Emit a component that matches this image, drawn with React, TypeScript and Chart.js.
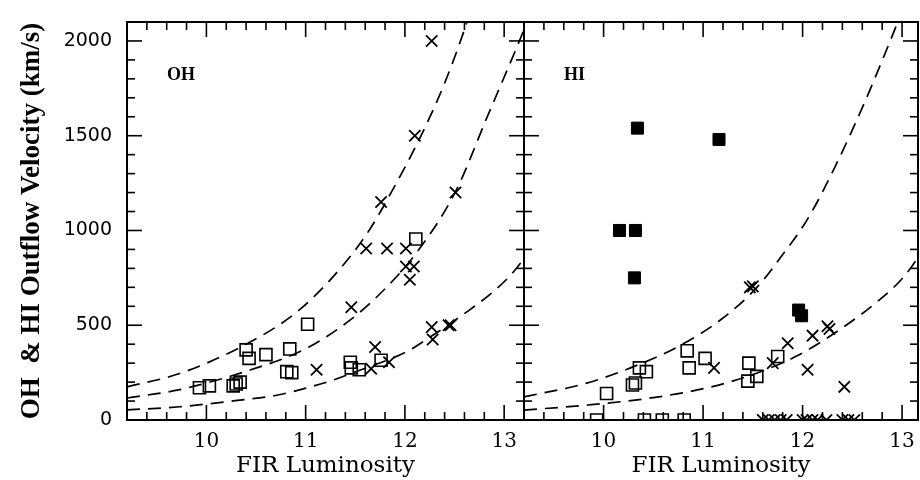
import { useEffect, useRef } from "react";
import { Chart, registerables } from "chart.js";

Chart.register(...registerables);

// x: log FIR luminosity, y: outflow velocity (km/s)

// OH panel
const OH_OPEN_SQUARES: [number, number][] = [
  [9.93, 170], [10.03, 180], [10.27, 180], [10.30, 190], [10.34, 200],
  [10.40, 370], [10.43, 325], [10.60, 345], [10.81, 255], [10.86, 250],
  [10.84, 375], [11.02, 505], [11.45, 305], [11.46, 275], [11.54, 265],
  [11.76, 315], [12.11, 955],
];
const OH_CROSSES: [number, number][] = [
  [11.11, 265], [11.46, 595], [11.61, 905], [11.66, 270], [11.70, 385],
  [11.76, 1150], [11.82, 905], [11.84, 305], [12.01, 905], [12.01, 810],
  [12.05, 740], [12.09, 810], [12.10, 1500], [12.27, 2000], [12.27, 490],
  [12.28, 425], [12.44, 500], [12.46, 500], [12.51, 1200],
];
const OH_CURVE_HIGH: [number, number][] = [
  [9.2, 175], [9.73, 245], [10.4, 400], [10.9, 565], [11.3, 770],
  [11.62, 985], [11.83, 1170], [12.19, 1530], [12.41, 1790], [12.6, 2060],
  [12.66, 2160],
];
const OH_CURVE_MID: [number, number][] = [
  [9.2, 116], [9.73, 160], [10.44, 264], [10.99, 373], [11.44, 524],
  [11.78, 682], [12.12, 885], [12.51, 1205], [12.83, 1600], [13.13, 1970],
  [13.2, 2060],
];
const OH_CURVE_LOW: [number, number][] = [
  [9.2, 53], [9.73, 70], [10.29, 102], [10.72, 132], [11.0, 168],
  [11.28, 211], [11.48, 250], [12.02, 361], [12.22, 426], [12.46, 510],
  [12.66, 584], [12.87, 668], [13.05, 756], [13.2, 850],
];

// HI panel
const HI_FILLED_SQUARES: [number, number][] = [
  [10.34, 1540], [11.16, 1480], [10.16, 1000], [10.32, 1000], [10.31, 750],
  [11.96, 580], [11.99, 550],
];
const HI_OPEN_SQUARES: [number, number][] = [
  [10.03, 140], [10.29, 185], [10.32, 195], [10.36, 275], [10.43, 255],
  [10.84, 365], [10.86, 275], [11.02, 325], [11.46, 300], [11.45, 205],
  [11.54, 230], [11.75, 335],
  [9.93, 0], [10.41, 0], [10.59, 0], [10.81, 0],
];
const HI_CROSSES: [number, number][] = [
  [11.47, 700], [11.50, 705], [11.11, 275], [11.70, 300], [11.85, 405],
  [12.10, 445], [12.05, 265], [12.25, 495], [12.27, 480], [12.42, 175],
  [11.60, 0], [11.66, 0], [11.72, 0], [11.78, 0], [11.84, 0], [12.00, 0],
  [12.04, 0], [12.10, 0], [12.15, 0], [12.24, 0], [12.40, 0], [12.46, 0],
  [12.52, 0],
];
const HI_CURVE_HIGH: [number, number][] = [
  [9.2, 122], [9.82, 193], [10.27, 275], [10.74, 385], [11.18, 530],
  [11.55, 705], [11.81, 880], [12.05, 1060], [12.33, 1340], [12.61, 1660],
  [12.83, 1935], [12.98, 2130],
];
const HI_CURVE_LOW: [number, number][] = [
  [9.2, 52], [9.84, 79], [10.5, 118], [11.06, 172], [11.5, 240],
  [11.95, 340], [12.41, 490], [12.77, 633], [13.0, 745], [13.16, 855],
];

// Axes
const X_MIN = 9.2;
const X_MAX_LEFT = 13.2;
const X_MAX_RIGHT = 13.16;
const Y_MIN = 0;
const Y_MAX = 2100;
const X_MAJOR = [10, 11, 12, 13];
const X_MINOR_STEP = 0.2;
const Y_MAJOR = [0, 500, 1000, 1500, 2000];
const Y_MINOR_STEP = 100;

const SERIF = "'DejaVu Serif', 'Liberation Serif', serif";
const SANS = "'DejaVu Sans', sans-serif";

const toXY = (pts: [number, number][]) => pts.map(([x, y]) => ({ x, y }));

// Frame with inward major/minor ticks on all four sides, plus the panel tag
const frameTicks = {
  id: "frameTicks",
  afterDraw(chart: any, _args: any, opts: any) {
    const { ctx, chartArea: a, scales } = chart;
    const xs = scales.x;
    const ys = scales.y;
    ctx.save();
    ctx.strokeStyle = "#000";
    ctx.lineCap = "butt";
    const seg = (x1: number, y1: number, x2: number, y2: number) => {
      ctx.beginPath();
      ctx.moveTo(x1, y1);
      ctx.lineTo(x2, y2);
      ctx.stroke();
    };
    const isMajor = (v: number, majors: number[]) =>
      majors.some((m) => Math.abs(m - v) < 1e-6);

    ctx.lineWidth = 1.6;
    for (let i = 0; ; i++) {
      const v = Math.round((Math.ceil(xs.min / X_MINOR_STEP - 1e-6) + i) * X_MINOR_STEP * 1000) / 1000;
      if (v > xs.max + 1e-6) break;
      const p = xs.getPixelForValue(v);
      if (p <= a.left + 1 || p >= a.right - 1) continue;
      const len = isMajor(v, X_MAJOR) ? 15 : 8;
      seg(p, a.bottom, p, a.bottom - len);
      seg(p, a.top, p, a.top + len);
    }
    for (let v = Y_MIN + Y_MINOR_STEP; v < ys.max; v += Y_MINOR_STEP) {
      const p = ys.getPixelForValue(v);
      const len = isMajor(v, Y_MAJOR) ? 15 : 8;
      seg(a.left, p, a.left + len, p);
      seg(a.right, p, a.right - len, p);
    }
    ctx.lineWidth = 2;
    ctx.strokeRect(a.left, a.top, a.right - a.left, a.bottom - a.top);

    if (opts && opts.label) {
      ctx.fillStyle = "#000";
      ctx.font = "bold 18px 'Liberation Serif', serif";
      ctx.textAlign = "left";
      ctx.textBaseline = "alphabetic";
      ctx.fillText(opts.label, a.left + 40, a.top + 58);
    }
    ctx.restore();
  },
};

function makeOptions(side: "left" | "right"): any {
  const left = side === "left";
  return {
    responsive: false,
    animation: false,
    events: [],
    layout: {
      autoPadding: false,
      padding: left
        ? { left: 0, right: 6, top: 22, bottom: 0 }
        : { left: 4, right: 2, top: 22, bottom: 0 },
    },
    plugins: {
      legend: { display: false },
      tooltip: { enabled: false },
      frameTicks: { label: left ? "OH" : "HI" },
    },
    scales: {
      x: {
        type: "linear",
        min: X_MIN,
        max: left ? X_MAX_LEFT : X_MAX_RIGHT,
        afterBuildTicks: (s: any) => {
          s.ticks = X_MAJOR.map((value) => ({ value }));
        },
        afterFit: (s: any) => {
          s.height = 60;
          s.paddingLeft = 0;
          s.paddingRight = 0;
        },
        grid: { display: false, drawTicks: false },
        border: { display: false },
        ticks: {
          color: "#000",
          font: { family: SERIF, size: 20 },
          padding: 10,
          maxRotation: 0,
          autoSkip: false,
          callback: (v: number) => String(v),
        },
        title: {
          display: true,
          text: "FIR Luminosity",
          color: "#000",
          font: { family: SERIF, size: 23 },
          padding: { top: 0, bottom: 0 },
        },
      },
      y: {
        type: "linear",
        min: Y_MIN,
        max: Y_MAX,
        display: left,
        afterBuildTicks: (s: any) => {
          s.ticks = Y_MAJOR.map((value) => ({ value }));
        },
        afterFit: (s: any) => {
          s.width = left ? 127 : 0;
          s.paddingTop = 0;
          s.paddingBottom = 0;
        },
        grid: { display: false, drawTicks: false },
        border: { display: false },
        ticks: {
          color: "#000",
          font: { family: SANS, size: 19 },
          padding: 15,
          autoSkip: false,
          callback: (v: number) => String(v),
        },
        title: {
          display: true,
          text: "OH  & HI Outflow Velocity (km/s)",
          color: "#000",
          font: { family: "'Liberation Serif', serif", size: 27, weight: "bold" },
          padding: { top: 16, bottom: 0 },
        },
      },
    },
  };
}

const openSquares = (pts: [number, number][]) => ({
  data: toXY(pts),
  pointStyle: "rect",
  pointRadius: 8.5,
  pointBorderWidth: 1.6,
  pointBorderColor: "#000",
  pointBackgroundColor: "rgba(0,0,0,0)",
  showLine: false,
  clip: 0,
});
const filledSquares = (pts: [number, number][]) => ({
  data: toXY(pts),
  pointStyle: "rect",
  pointRadius: 8.5,
  pointBorderWidth: 1,
  pointBorderColor: "#000",
  pointBackgroundColor: "#000",
  showLine: false,
  clip: 0,
});
const crosses = (pts: [number, number][]) => ({
  data: toXY(pts),
  pointStyle: "crossRot",
  pointRadius: 8,
  pointBorderWidth: 1.8,
  pointBorderColor: "#000",
  pointBackgroundColor: "#000",
  showLine: false,
  clip: 0,
});
const dashedCurve = (pts: [number, number][]) => ({
  data: toXY(pts),
  showLine: true,
  pointRadius: 0,
  borderColor: "#000",
  borderWidth: 1.7,
  borderDash: [13, 8],
  cubicInterpolationMode: "monotone",
  fill: false,
  clip: 0,
});

function Panel({ side, left, width }: { side: "left" | "right"; left: number; width: number }) {
  const ref = useRef<HTMLCanvasElement | null>(null);
  useEffect(() => {
    if (!ref.current) return;
    const datasets =
      side === "left"
        ? [
            openSquares(OH_OPEN_SQUARES),
            crosses(OH_CROSSES),
            dashedCurve(OH_CURVE_HIGH),
            dashedCurve(OH_CURVE_MID),
            dashedCurve(OH_CURVE_LOW),
          ]
        : [
            filledSquares(HI_FILLED_SQUARES),
            openSquares(HI_OPEN_SQUARES),
            crosses(HI_CROSSES),
            dashedCurve(HI_CURVE_HIGH),
            dashedCurve(HI_CURVE_LOW),
          ];
    const chart = new Chart(ref.current, {
      type: "scatter",
      data: { datasets } as any,
      options: makeOptions(side),
      plugins: [frameTicks],
    });
    return () => chart.destroy();
  }, [side]);
  return (
    <canvas
      ref={ref}
      width={width}
      height={480}
      style={{ position: "absolute", left, top: 0, width, height: 480, display: "block" }}
    />
  );
}

export default function App() {
  return (
    <div
      style={{
        position: "absolute",
        left: 0,
        top: 0,
        width: 920,
        height: 480,
        background: "#fff",
        overflow: "hidden",
      }}
    >
      <Panel side="left" left={0} width={530} />
      <Panel side="right" left={520} width={400} />
    </div>
  );
}
